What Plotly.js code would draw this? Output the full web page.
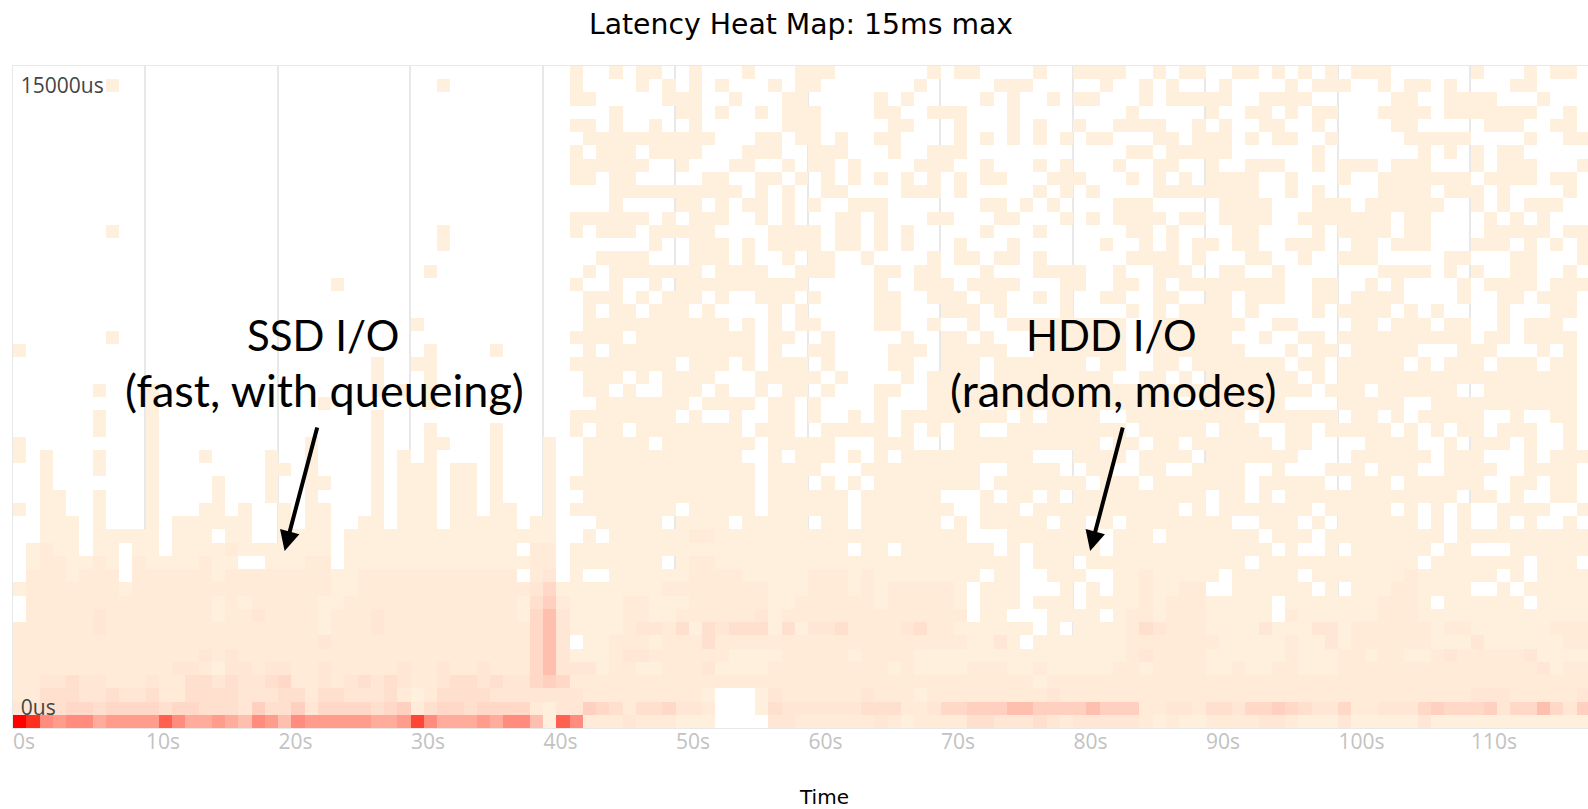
<!DOCTYPE html>
<html>
<head>
<meta charset="utf-8">
<script src="https://cdn.plot.ly/plotly-3.0.1.min.js"></script>
<style>html,body{margin:0;padding:0;background:#fff;overflow:hidden;width:1588px;height:809px}</style>
</head>
<body>
<div id="chart"></div>
<script>
// Occupied latency bins (time-bucket numbers), rows 0..34 counted from the top of the map.
const occupiedRows = [
"42 45 47 48 51 55 59-61 69 71 72 77 80-83 86 88 89 92 93 95 97 99 101-103 110 114 116 117",
"7 32 42 47 49 51 53 57 59 60 68 74-76 82 85 87 91 96 98-100 103 105 106 108 113 114",
"42 43 49-51 54 58 59 65 67 73 75 78 80 81 85 87-91 94-97 104 105 108-111 115",
"45 50 51 53 56 58-60 65 66 69-71 75 84 90 93 94 96 98 99 103-106 108-114 117",
"42 43 45 48 51 58-60 66 67 71 75 77 80 83-86 89 91 94 95 98 104 105 111-113 116 117",
"43-52 56 57 59 60 62 65 66 71 73 75 77 79 81 82 86 87 89-91 93 95 96 99 105-109 114 117 118",
"42 44-46 48-51 55-57 60-62 66 69-71 84 85 87-91 98 106 108 110 112 113",
"42-47 50 54 55 58 60 61 63 68-70 73 77 79 83 86 87 90 93-95 98 100-102 104-106 110 112-114 118",
"42 43 45 46 52 53 56 57 59 61 63 65 67 69 71 73 74 78-80 84 86 88 90-93 96 100 103-109 111-114 116 117",
"45-54 56 58 61 62 67-69 71 77 79 81 86-93 96 98 103-106 108-110 112 117",
"45 50 51 53 55 56 58 60 63-65 73 74 76 78 83-85 91-94 98-100 102-107 110 112 114-116",
"42-47 49 51-53 56 58 62 63 65 69 70 74 75 79 81 83-86 88 89 91-94 97-103 105 106 111 113 115",
"7 32 42 44-46 48-52 57-60 62 63 65 67 73 77 84 85 87 92 93 98 100-103 105 106 111-115 117 118",
"32 48 51-53 55 57-60 62 63 65 67 71 75 82 85 87 89 90 92 93 96-98 101 102 104-106 110-112 114 116 118",
"44-47 51-53 55 58 60 61 64 69 71 72 74 75 77 84-87 89 93 94 97 100-102 108 109 113 114 118",
"31 43 45-51 53-56 59-61 65 66 68 69 73 77-80 83 86-88 91 92 95 103-106 108 110 113 114 117",
"24 42 45 48 50-59 65 68-70 72-75 79 80 83 84 86 88-95 98 99 102 104 109 111-114 116-118",
"43-45 47 49-51 53 56-58 60 65 66 69-71 73 74 77 79 82 83 86 87 90 91 93-95 98 99 101-104 109 112 113 115-117",
"43 45 46 48-50 52 57 59 65 66 70-72 74 79 84 86 88-91 93 98 100-103 105 107 112 116 117",
"30 43-53 55 57 59 60 65 66 69 72 75-83 86-92 95 96 101 102 104-106 108 109 112 114-116",
"7 42-45 47-55 57 58 61 67 70 71 73 77-83 86-91 94 97 98 100-109 111 112 114-117",
"0 31 36 43 45-55 57 60 61 66-68 70-74 77-83 86-92 96 98 99 101-105 109-111 115 117",
"27 30 31 42-49 51-53 55 57-59 61 66 67 70-72 74-80 82 83 86 87 89-95 97 98 100-104 106 108-110 112-114 116 117",
"27 31 43-45 47 49-52 56-60 62 67 69-72 74-82 85 86 88 90-96 98 100-117",
"6 10 27 29 31 43 44 46 49-51 53 56 58 59 61 65 66 69-97 99-101 103-108 111-117",
"10 23 31 36 44-50 52-55 57 58 60 65 69-72 74-87 90-95 100-104 107-117",
"6 10 27 42-49 51 54 57 58 60 63 65 67-74 76 78-81 84-92 94-99 101 102 104 106-110 113 116 117",
"6 10 27 31 36 42 44 45 47-54 56-58 61-65 67 69 71 72 75-83 85-89 91-93 96 97 99-103 105 107 109 110 112-114 117",
"0 10 22 27 31 32 36 40 43-47 49-55 57-61 65-67 71-81 83 84 86 87 89-94 96 97 102-105 108 110-112 114 117",
"0 2 6 10 14 19 22 27 29 31 36 40 43-54 57 59-61 63 65 67-76 80-83 85-88 90-96 101-106 108-110 114 116-118",
"2 6 10 19 20 22 27 29-31 33 34 36 40 43-55 57-60 64-72 75-78 81 82 85 86 89-92 95 99-101 103-105 108-111 114-117",
"2 10 15 19 22 23 27 29-31 33 34 36 40 42-55 57-59 61 63 65-72 74-80 82-84 86-92 94-98 101-103 105-110 113 114 116 117",
"2 3 6 10 15 19 22 27 29-31 33 34 36 40 43-55 57-62 64-69 73 75 76 78 80-89 91 92 94 96-108 110 111 113 116 117",
"0 2 3 6 10 14 15 17 20 22 23 27 29-31 33 34 36 37 40 42-49 51-55 57-62 64-70 73-75 77-87 89 91-97 99-103 105 107 109 112-115 118",
"2-4 6 10 12-17 20 22 23 26 27 29-31 33-37 39 40 44-48 50-53 55-59 61 62 64-69 71 73-77 79 80 82 84-91 94-96 98 100-105 107 109 112 114 117"
];
// Intensity per time bucket, rows 35..49 from the top (hex digit, 0 = no I/O), grouped by ten buckets.
const intensityRows = [
"0011101111 1011101100 1111011111 1111111111 1001011111 1221111111 1111111111 1100011111 1101110111 1111011101 1111111101 111111111",
"0121101101 1011112111 1111011111 1111111102 2011111111 1111111111 1110110111 1111010111 1101111111 1111101001 0111111011 000111111",
"0122112102 1111211001 1122011111 1111111112 2011111110 1221111111 1111111111 1111110111 0111111111 1110111111 1111110111 111101110",
"0222122202 2222212222 2222112222 2222222202 3010011111 1222211111 2221211111 1110110011 1001121111 1011111011 1111121111 110101111",
"1222222212 2222222222 2222112222 2222222223 5111111112 2222222111 2221212222 2101110001 0101121122 0011111101 0111221111 001011111",
"0222222222 2222212122 2221122222 2222222214 6211112211 1222222112 2222212222 2101110111 0111121222 1111101111 1112221011 111101111",
"0222223222 2222212232 2221222322 2222222215 7311112211 2222223122 2222222222 2201100011 1101221222 1111102111 1112221111 111111111",
"2222223222 2222222222 2221222322 2222222225 7311112332 4143444141 3342222342 2111111010 1111243222 1111311133 1222222122 111111222",
"2222222222 2222222222 2223222222 2222222225 7301122212 2242222222 2222222222 2211310111 1111222222 2111112113 1222222111 311111122",
"2222222222 2222323222 2222222222 2222222225 7311123322 2222111122 2221222211 1111111111 1111232222 1111112111 2212211232 222231111",
"2222222222 2233213323 3223222223 2232232225 7333122112 2231111222 2222221211 1122211211 1112212222 1121122111 2222222222 222223122",
"2233433222 3224434334 5223234343 2234434335 6522222222 2222222222 2222222222 2222222122 2222222222 2222222222 2222222222 222222222",
"2244433433 4224444333 4424433342 1244443333 3332222222 2210001322 2222322212 2222222232 2222222222 2222222222 2222222222 333222223",
"3344554555 5455444364 4635555456 2455455552 1336542445 3320001433 3333444223 5566677666 6766622332 4435565433 5223335655 563557536",
"FEA9AA8999 9CA8898 7A9 7A99999889 DA88898AA7 1CA2223222 1110000332 2222232122 2244333432 3333321211 2222332111 3111113111 111111111"
];
const intensityColors = ["#FFF0DD","#FFEBD8","#FFE6D5","#FFE0CF","#FFD8C8","#FFCFBF","#FFBFAF","#FFAC9C","#FF9C8C","#FF8C7C","#FF7868","#FF6050","#FF4535","#FF3020","#FF0000"];
const timeTickValues = [0,10,20,30,40,50,60,70,80,90,100,110];
const timeTickLabels = ["0s","10s","20s","30s","40s","50s","60s","70s","80s","90s","100s","110s"];
const latencyTickValues = [1,48];
const latencyTickLabels = ["0us","15000us"];
const bucketCount = 119;

function expandOccupied(text){
  const row = new Array(bucketCount).fill(null);
  text.split(" ").forEach(t=>{
    const p = t.split("-").map(Number);
    for(let c=p[0]; c<=(p.length>1?p[1]:p[0]); c++) row[c]=1;
  });
  return row;
}
function expandIntensity(text){
  return text.replace(/ /g,"").split("").map(ch=>{
    const v = parseInt(ch,16);
    return v===0 ? null : v;
  });
}
const topDown = occupiedRows.map(expandOccupied).concat(intensityRows.map(expandIntensity));
const z = topDown.slice().reverse();
const xCenters = Array.from({length:bucketCount},(_,i)=>i+0.5);
const yBins = z.map((_,i)=>i);

const trace = {
  type:"heatmap", x:xCenters, y:yBins, z:z, zmin:1, zmax:15, showscale:false, hoverongaps:false,
  colorscale:intensityColors.map((c,i)=>[i/(intensityColors.length-1),c])
};
const lineFont = s => ({family:"Lato, sans-serif", size:s, color:"#000"});
const callout = (x,y,text,s) => ({x:x, y:y, xref:"x", yref:"y", text:text, showarrow:false, font:lineFont(s), align:"center"});
const timeTickFont = {family:"Open Sans, sans-serif", size:21, color:"#c2c2c2"};
const layout = {
  width:1636, height:809, autosize:false, paper_bgcolor:"#fff", plot_bgcolor:"#fff", showlegend:false,
  margin:{l:12.5,r:0,t:66,b:81,pad:0},
  title:{text:"Latency Heat Map: 15ms max", font:{family:"DejaVu Sans", size:28.3, color:"#000"},
    xref:"container", x:801/1636, xanchor:"center", yref:"container", y:1-24/809, yanchor:"middle"},
  xaxis:{range:[0,122.5], tickvals:timeTickValues.slice(1), ticktext:timeTickLabels.slice(1), ticks:"",
    ticklabelposition:"outside right", ticklabeloverflow:"allow", ticklabelstandoff:-5,
    tickfont:timeTickFont,
    showgrid:true, gridcolor:"#e8e8e8", gridwidth:1.5, zeroline:false, showline:true, linecolor:"#e8e8e8", linewidth:1, mirror:true,
    title:{text:"Time", font:{family:"DejaVu Sans", size:20, color:"#000"}, standoff:41}, automargin:true},
  yaxis:{range:[-0.5,49.5], tickvals:latencyTickValues, ticktext:latencyTickLabels, ticks:"",
    ticklabelposition:"inside", ticklabelstandoff:9, tickfont:{family:"Open Sans, sans-serif", size:21, color:"#444"},
    showgrid:false, zeroline:false, showline:true, linecolor:"#e8e8e8", linewidth:1, automargin:false},
  annotations:[
    {x:timeTickValues[0], xref:"x", xanchor:"left", y:-13.4/662, yref:"paper", yanchor:"middle", text:timeTickLabels[0], showarrow:false, font:timeTickFont, borderpad:0, xshift:-1},
    callout(23.4, 29.2, "SSD I/O", 42),
    callout(23.5, 25.0, "(fast, with queueing)", 45),
    callout(82.9, 29.2, "HDD I/O", 42),
    callout(83.1, 25.0, "(random, modes)", 45),
    {x:20.5, y:12.87, xref:"x", yref:"y", text:"", showarrow:true, arrowhead:2, arrowsize:1, arrowwidth:4, arrowcolor:"#000", ax:33, ay:-125},
    {x:81.3, y:12.87, xref:"x", yref:"y", text:"", showarrow:true, arrowhead:2, arrowsize:1, arrowwidth:4, arrowcolor:"#000", ax:33, ay:-125}
  ]
};
Plotly.newPlot("chart",[trace],layout,{displayModeBar:false,responsive:false});
</script>
</body>
</html>
